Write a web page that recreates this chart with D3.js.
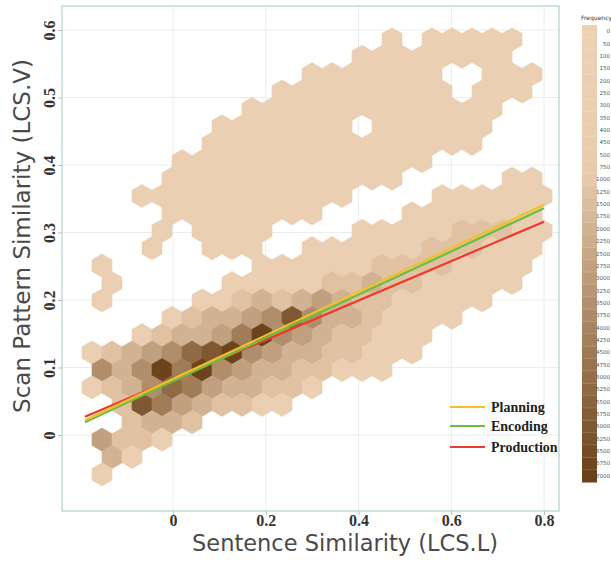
<!DOCTYPE html>
<html>
<head>
<meta charset="utf-8">
<script src="https://cdn.jsdelivr.net/npm/d3@7"></script>
<style>
  body { margin: 0; background: #fff; }
</style>
</head>
<body>
<script>
// hex cells, one string per hex row from the top
// '.' = empty, '1'..'9' = frequency level (see levelCounts)
var hexRows = [
  ".........................",
  "................1.11111..",
  "...............11111111..",
  "............1111111..111.",
  "...........111111111.111.",
  ".........1111111111111...",
  "........1111111.111111...",
  ".......11111111111111....",
  "......1111111111111......",
  ".....111111111111.....11.",
  "....11111111111....111111",
  ".....11111111....1111111.",
  ".....1.1111....1111122211",
  "....1..111..111111222111.",
  "..1.......11111122221111.",
  "..1.....111112232211111..",
  "..1....112323432211111...",
  ".....123345853321111.....",
  "....123346954322111......",
  ".12345789543322111.......",
  "..535969543322111........",
  ".123576433221............",
  "...286432211.............",
  "...2332..................",
  "..4221...................",
  "..31.....................",
  "..1......................"
];
var levelCounts = [0, 200, 1300, 2000, 2800, 3600, 4400, 5200, 6000, 6900];

// hex grid (data units)
var binX0 = -0.2394, binY0 = 0.6119, binW = 0.04313, binH = 0.02578;

var xTicks = [0, 0.2, 0.4, 0.6, 0.8];
var yTicks = [0, 0.1, 0.2, 0.3, 0.4, 0.5, 0.6];

var seriesNames = ["Planning", "Encoding", "Production"];
var fitX = [-0.19, 0.80];
var planningY = [0.022, 0.341];
var encodingY = [0.019, 0.336];
var productionY = [0.027, 0.316];

var freqLabels = [0, 50, 100, 150, 200, 250, 300, 350, 400, 450, 500, 750, 1000, 1250,
  1500, 1750, 2000, 2250, 2500, 2750, 3000, 3250, 3500, 3750, 4000, 4250, 4500, 4750,
  5000, 5250, 5500, 5750, 6000, 6250, 6500, 6750, 7000];

var width = 611, height = 563;
var pL = 62, pT = 6, pR = 559, pB = 511;

var svg = d3.select("body").append("svg")
  .attr("width", width).attr("height", height)
  .style("font-family", "'Liberation Serif', serif");

var xScale = d3.scaleLinear().domain([-0.2394, 0.8323]).range([pL, pR]);
var yScale = d3.scaleLinear().domain([-0.1126, 0.6356]).range([pB, pT]);
var color = d3.scaleLinear().domain([0, 1000, 7000]).range(["#ecd1b4", "#e6c9aa", "#6a4119"]);

svg.append("defs").append("clipPath").attr("id", "plot")
  .append("rect").attr("x", pL).attr("y", pT)
  .attr("width", pR - pL).attr("height", pB - pT);

// grid
var grid = svg.append("g").attr("stroke", "#ececec").attr("stroke-width", 1);
grid.selectAll(".gx").data(xTicks).enter().append("line")
  .attr("x1", d => xScale(d)).attr("x2", d => xScale(d))
  .attr("y1", pT).attr("y2", pB);
grid.selectAll(".gy").data(yTicks).enter().append("line")
  .attr("x1", pL).attr("x2", pR)
  .attr("y1", d => yScale(d)).attr("y2", d => yScale(d));

// hex cells
var cells = [];
hexRows.forEach(function(row, r) {
  for (var c = 0; c < row.length; c++) {
    if (row[c] === ".") continue;
    cells.push({
      x: binX0 + binW * (c + (r % 2 ? 0.5 : 0)),
      y: binY0 - binH * r,
      count: levelCounts[+row[c]]
    });
  }
});

var rx = (xScale(binW) - xScale(0)) / 2;
var ry = (yScale(0) - yScale(binH)) / 1.5;
var hexPath = "M0," + (-ry) + "L" + rx + "," + (-ry / 2) + "L" + rx + "," + (ry / 2) +
  "L0," + ry + "L" + (-rx) + "," + (ry / 2) + "L" + (-rx) + "," + (-ry / 2) + "Z";

svg.append("g").attr("clip-path", "url(#plot)")
  .selectAll("path").data(cells).enter().append("path")
  .attr("d", hexPath)
  .attr("transform", d => "translate(" + xScale(d.x) + "," + yScale(d.y) + ")")
  .attr("fill", d => color(d.count))
  .attr("stroke", d => color(d.count))
  .attr("stroke-width", 0.6);

// fitted lines
var lineColors = { Planning: "#f2c02a", Encoding: "#6cbd45", Production: "#ee3a2c" };
var fits = [
  { name: "Production", ys: productionY },
  { name: "Encoding", ys: encodingY },
  { name: "Planning", ys: planningY }
];
var line = d3.line().x(d => xScale(d[0])).y(d => yScale(d[1]));
svg.append("g").selectAll("path").data(fits).enter().append("path")
  .attr("d", d => line(fitX.map((x, i) => [x, d.ys[i]])))
  .attr("fill", "none")
  .attr("stroke", d => lineColors[d.name])
  .attr("stroke-width", 2.2);

// frame
svg.append("rect").attr("x", pL).attr("y", pT)
  .attr("width", pR - pL).attr("height", pB - pT)
  .attr("fill", "none").attr("stroke", "#b3d2d0").attr("stroke-width", 1.2);

// axes
var fmt = d => d === 0 ? "0" : d3.format(".1f")(d);
var xAxis = svg.append("g").attr("transform", "translate(0," + pB + ")")
  .call(d3.axisBottom(xScale).tickValues(xTicks).tickSize(4).tickFormat(fmt));
xAxis.select(".domain").remove();
xAxis.selectAll("line").attr("stroke", "#bbb");
xAxis.selectAll("text").attr("y", 15).attr("dy", 0)
  .attr("font-size", 16).attr("font-weight", "bold").attr("fill", "#333")
  .attr("font-family", "'Liberation Serif', serif");

var yAxis = svg.append("g").attr("transform", "translate(" + pL + ",0)")
  .call(d3.axisLeft(yScale).tickValues(yTicks).tickSize(4).tickFormat(fmt));
yAxis.select(".domain").remove();
yAxis.selectAll("line").attr("stroke", "#bbb");
yAxis.selectAll("text")
  .attr("x", 0).attr("dy", 0)
  .attr("transform", "translate(-7,0) rotate(-90)")
  .attr("text-anchor", "middle")
  .attr("font-size", 16).attr("font-weight", "bold").attr("fill", "#333")
  .attr("font-family", "'Liberation Serif', serif");

svg.append("text")
  .attr("x", 345).attr("y", 551)
  .attr("text-anchor", "middle")
  .attr("font-family", "'DejaVu Sans', sans-serif").attr("font-size", 22.5)
  .attr("fill", "#4a4a4a")
  .text("Sentence Similarity (LCS.L)");

svg.append("text")
  .attr("transform", "translate(30,236) rotate(-90)")
  .attr("text-anchor", "middle")
  .attr("font-family", "'DejaVu Sans', sans-serif").attr("font-size", 23)
  .attr("fill", "#4a4a4a")
  .text("Scan Pattern Similarity (LCS.V)");

// legend for the fit lines
var leg = svg.append("g");
seriesNames.forEach(function(name, i) {
  var ly = [407, 426, 447][i];
  leg.append("line").attr("x1", 450).attr("x2", 485).attr("y1", ly).attr("y2", ly)
    .attr("stroke", lineColors[name]).attr("stroke-width", 2.2);
  leg.append("text").attr("x", 491).attr("y", ly + 5)
    .attr("font-size", 14).attr("font-weight", "bold").attr("fill", "#222")
    .text(name);
});

// frequency colour bar
var barTop = 25, barBottom = 482, barX = 582, barW = 15;
var bandScale = d3.scaleBand().domain(freqLabels).range([barTop, barBottom]);
var bar = svg.append("g");
bar.selectAll("rect").data(freqLabels).enter().append("rect")
  .attr("x", barX).attr("y", d => bandScale(d))
  .attr("width", barW).attr("height", bandScale.bandwidth() + 0.5)
  .attr("fill", d => color(d));
bar.selectAll("line").data(freqLabels.slice(1)).enter().append("line")
  .attr("x1", barX).attr("x2", barX + barW)
  .attr("y1", d => bandScale(d)).attr("y2", d => bandScale(d))
  .attr("stroke", "#fff").attr("stroke-opacity", 0.25).attr("stroke-width", 0.6);
bar.selectAll("text").data(freqLabels).enter().append("text")
  .attr("x", 610).attr("y", d => bandScale(d) + bandScale.bandwidth() / 2 + 2)
  .attr("text-anchor", "end")
  .attr("font-family", "'DejaVu Sans', sans-serif").attr("font-size", 5.5)
  .attr("fill", "#555")
  .text(d => d);
svg.append("text").attr("x", 581).attr("y", 20)
  .attr("font-family", "'DejaVu Sans', sans-serif").attr("font-size", 6)
  .attr("fill", "#333").text("Frequency");
</script>
</body>
</html>
